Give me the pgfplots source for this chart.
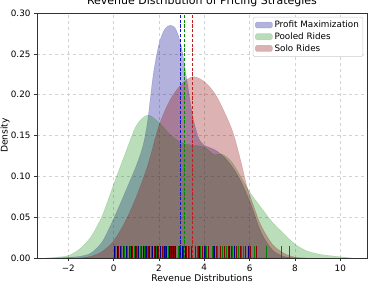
\documentclass[border=0pt]{standalone}
\usepackage{pgfplots}
\pgfplotsset{compat=1.18}
\usepackage{fontspec}
\setmainfont{DejaVu Sans}
\definecolor{cblue}{RGB}{0,0,139}
\definecolor{cgreen}{RGB}{0,128,0}
\definecolor{cred}{RGB}{139,0,0}
\definecolor{lblue}{RGB}{20,20,200}
\definecolor{lgreen}{RGB}{0,140,0}
\definecolor{lred}{RGB}{190,30,30}
\begin{document}
\begin{tikzpicture}
\begin{axis}[
  name=ax,
  scale only axis,
  width=330pt, height=245pt,
  xmin=-3.38, xmax=11.18,
  ymin=0, ymax=0.30,
  xtick={-2,0,2,4,6,8,10},
  xticklabels={−2,0,2,4,6,8,10},
  ytick={0,0.05,0.10,0.15,0.20,0.25,0.30},
  yticklabels={0.00,0.05,0.10,0.15,0.20,0.25,0.30},
  tick align=outside,
  major tick length=3pt,
  tick style={black!80, line width=0.6pt},
  axis line style={black!80, line width=0.6pt},
  xtick pos=bottom, ytick pos=left,
  grid=major,
  grid style={dashed, gray!35, line width=0.4pt},
  ticklabel style={font=\fontsize{8.8}{10}\selectfont},
  xlabel={Revenue Distributions},
  ylabel={Density},
  label style={font=\fontsize{9.2}{11}\selectfont},
  xlabel style={at={(0.5,0)}, anchor=base, yshift=-23pt},
  ylabel style={at={(0,0.5)}, anchor=base, xshift=0pt},
  every axis y label/.append style={at={(ticklabel cs:0.5)}, yshift=0pt},
  title={Revenue Distribution of Pricing Strategies},
  title style={font=\fontsize{11}{13}\selectfont, at={(0.5,1)}, anchor=base, yshift=2.3pt},
  legend style={at={(0.988,0.984)}, anchor=north east, font=\fontsize{8.8}{10}\selectfont,
    draw=gray!40, rounded corners=1.5pt, row sep=-0.5pt, inner sep=2pt},
  legend cell align=left,
  legend image code/.code={\fill[#1] (0pt,-2.8pt) rectangle (17pt,3.2pt);},
]
\addplot[fill=cblue, fill opacity=0.3, draw=cblue, draw opacity=0.2, smooth] coordinates {
(-2.5,0) (-2,0.0008) (-1.5,0.002) (-1,0.006) (-0.5,0.02) (0,0.048) (0.5,0.08) (1.0,0.113) (1.3,0.138) (1.5,0.168) (1.75,0.225) (2.0,0.262) (2.25,0.28) (2.5,0.285) (2.75,0.28) (3.0,0.258) (3.25,0.215) (3.5,0.172) (3.75,0.147) (4.0,0.138) (4.5,0.132) (5.0,0.12) (5.5,0.1) (6.0,0.07) (6.5,0.032) (7.0,0.01) (7.5,0.002) (8.0,0)
} \closedcycle;
\addlegendentry{Profit Maximization}
\addplot[fill=cgreen, fill opacity=0.27, draw=cgreen, draw opacity=0.2, smooth] coordinates {
(-3,0) (-2.5,0.001) (-2,0.003) (-1.5,0.011) (-1.0,0.026) (-0.5,0.052) (0,0.09) (0.5,0.127) (1.0,0.162) (1.5,0.175) (2.0,0.166) (2.5,0.151) (3.0,0.141) (3.5,0.138) (4.0,0.136) (4.4,0.127) (4.8,0.127) (5.2,0.118) (5.6,0.1) (6.0,0.081) (6.5,0.062) (7.0,0.044) (7.5,0.03) (8.0,0.017) (8.5,0.009) (9.0,0.005) (9.5,0.003) (10,0.0015) (10.5,0)
} \closedcycle;
\addlegendentry{Pooled Rides}
\addplot[fill=cred, fill opacity=0.3, draw=cred, draw opacity=0.2, smooth] coordinates {
(-1.5,0) (-1,0.002) (-0.5,0.008) (0,0.021) (0.5,0.044) (1.0,0.075) (1.5,0.113) (2.0,0.162) (2.5,0.194) (3.0,0.213) (3.5,0.222) (4.0,0.216) (4.5,0.2) (5.0,0.172) (5.3,0.151) (5.6,0.12) (5.9,0.086) (6.2,0.062) (6.5,0.04) (7.0,0.017) (7.5,0.006) (8.0,0.001) (8.5,0)
} \closedcycle;
\addlegendentry{Solo Rides}
% rug
\addplot[ycomb, cblue, line width=0.9pt, mark=none, forget plot] coordinates {
(0.05,0.015) (0.18,0.015) (0.3,0.015) (0.55,0.015) (0.68,0.015) (0.8,0.015) (0.95,0.015) (1.1,0.015) (1.22,0.015) (1.3,0.015) (1.45,0.015) (1.6,0.015) (1.7,0.015) (1.85,0.015) (1.95,0.015) (2.05,0.015) (2.15,0.015) (2.25,0.015) (2.35,0.015) (2.45,0.015) (2.55,0.015) (2.65,0.015) (2.75,0.015) (2.85,0.015) (2.95,0.015) (3.05,0.015) (3.15,0.015) (3.3,0.015) (3.45,0.015) (3.6,0.015) (3.8,0.015) (4.0,0.015) (4.1,0.015) (4.2,0.015) (4.45,0.015) (4.58,0.015) (4.7,0.015) (4.9,0.015) (5.1,0.015) (5.35,0.015) (5.6,0.015) (5.75,0.015) (5.93,0.015)
};
\addplot[ycomb, cgreen, line width=0.9pt, mark=none, forget plot] coordinates {
(0.1,0.015) (0.35,0.015) (0.5,0.015) (0.6,0.015) (0.75,0.015) (0.9,0.015) (1.05,0.015) (1.2,0.015) (1.35,0.015) (1.5,0.015) (1.65,0.015) (1.8,0.015) (1.9,0.015) (2.0,0.015) (2.2,0.015) (2.4,0.015) (2.6,0.015) (2.85,0.015) (3.1,0.015) (3.35,0.015) (3.6,0.015) (3.72,0.015) (3.85,0.015) (4.1,0.015) (4.35,0.015) (4.6,0.015) (4.8,0.015) (5.0,0.015) (5.25,0.015) (5.5,0.015) (5.65,0.015) (5.75,0.015) (6.0,0.015) (6.2,0.015) (6.74,0.015) (7.4,0.015) (7.77,0.015)
};
\addplot[ycomb, cred, line width=0.9pt, mark=none, forget plot] coordinates {
(0.2,0.015) (0.45,0.015) (0.7,0.015) (0.85,0.015) (1.0,0.015) (1.25,0.015) (1.4,0.015) (1.55,0.015) (1.8,0.015) (2.0,0.015) (2.15,0.015) (2.3,0.015) (2.5,0.015) (2.6,0.015) (2.7,0.015) (2.9,0.015) (3.1,0.015) (3.2,0.015) (3.3,0.015) (3.45,0.015) (3.6,0.015) (3.75,0.015) (3.9,0.015) (4.05,0.015) (4.2,0.015) (4.4,0.015) (4.55,0.015) (4.7,0.015) (4.9,0.015) (5.05,0.015) (5.2,0.015) (5.4,0.015) (5.6,0.015) (5.8,0.015) (6.05,0.015) (6.3,0.015)
};
% mean lines
\addplot[lblue, line width=1pt, dash pattern=on 3.2pt off 1.6pt, forget plot] coordinates {(2.96,0) (2.96,0.30)};
\addplot[lgreen, line width=1pt, dash pattern=on 3.2pt off 1.6pt, forget plot] coordinates {(3.12,0) (3.12,0.30)};
\addplot[lred, line width=1pt, dash pattern=on 3.2pt off 1.6pt, forget plot] coordinates {(3.46,0) (3.46,0.30)};
\end{axis}
\pgfresetboundingbox
\useasboundingbox ([shift={(-37pt,-26pt)}]ax.south west) rectangle ([shift={(1pt,13pt)}]ax.north east);
\end{tikzpicture}
\end{document}
